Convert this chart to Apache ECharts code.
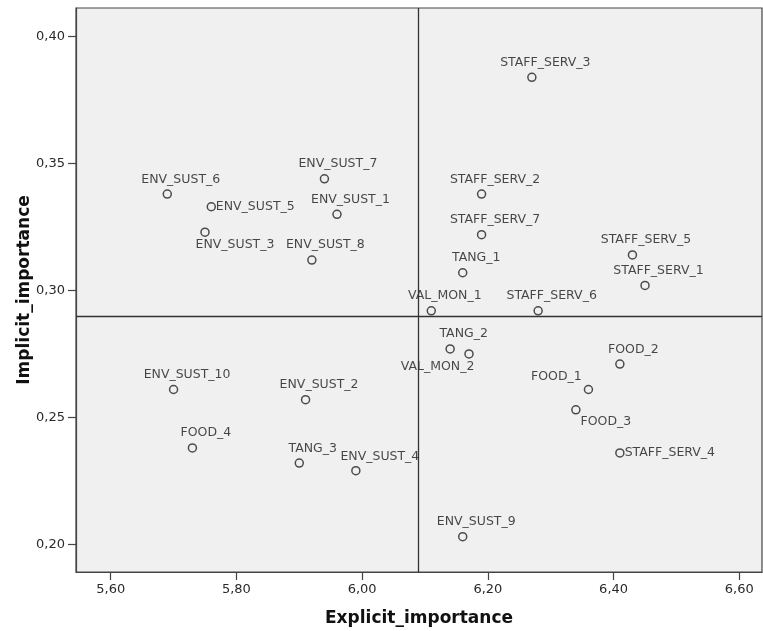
<!DOCTYPE html>
<html>
<head>
<meta charset="utf-8">
<script src="https://cdn.jsdelivr.net/npm/echarts@6/dist/echarts.min.js"></script>
<style>
  html, body { margin: 0; padding: 0; background: #ffffff; }
  #chart { width: 763px; height: 631px; }
</style>
</head>
<body>
<div id="chart"></div>
<script>
// ---- data ----
const names = [
  'ENV_SUST_6', 'ENV_SUST_5', 'ENV_SUST_3', 'ENV_SUST_7', 'ENV_SUST_1', 'ENV_SUST_8',
  'VAL_MON_1', 'STAFF_SERV_3', 'STAFF_SERV_2', 'STAFF_SERV_7', 'TANG_1', 'STAFF_SERV_5',
  'STAFF_SERV_1', 'STAFF_SERV_6', 'TANG_2', 'VAL_MON_2', 'FOOD_2', 'FOOD_1', 'FOOD_3',
  'STAFF_SERV_4', 'ENV_SUST_9', 'ENV_SUST_10', 'ENV_SUST_2', 'FOOD_4', 'TANG_3', 'ENV_SUST_4'
];
const explicitImportance = [
  5.690, 5.760, 5.750, 5.940, 5.960, 5.920,
  6.110, 6.270, 6.190, 6.190, 6.160, 6.430,
  6.450, 6.280, 6.140, 6.170, 6.410, 6.360, 6.340,
  6.410, 6.160, 5.700, 5.910, 5.730, 5.900, 5.990
];
const implicitImportance = [
  0.338, 0.333, 0.323, 0.344, 0.330, 0.312,
  0.292, 0.384, 0.338, 0.322, 0.307, 0.314,
  0.302, 0.292, 0.277, 0.275, 0.271, 0.261, 0.253,
  0.236, 0.203, 0.261, 0.257, 0.238, 0.232, 0.229
];
const xTicks = [5.6, 5.8, 6.0, 6.2, 6.4, 6.6];
const yTicks = [0.20, 0.25, 0.30, 0.35, 0.40];
const xRefLine = 6.089;   // mean of explicit importance
const yRefLine = 0.2892;  // mean of implicit importance

// ---- label placement (style config) ----
const defaultOffset = [13.5, -14.8];
const labelOffsets = {
  'ENV_SUST_3': [30, 13],
  'ENV_SUST_5': [44, 0],
  'VAL_MON_2': [-31.5, 13],
  'FOOD_1': [-32, -12.6],
  'FOOD_3': [30, 12.4],
  'STAFF_SERV_4': [50, 0],
  'ENV_SUST_4': [24, -14]
};

const points = names.map((n, i) => ({
  name: n,
  value: [explicitImportance[i], implicitImportance[i]],
  label: { offset: labelOffsets[n] || defaultOffset }
}));

const fmt = v => v.toFixed(2).replace('.', ',');

const chart = echarts.init(document.getElementById('chart'), null, { renderer: 'canvas' });
chart.setOption({
  animation: false,
  backgroundColor: '#ffffff',
  grid: {
    left: 76, right: 1, top: 8, bottom: 59,
    outerBoundsMode: 'none',
    containLabel: false,
    show: true,
    backgroundColor: '#f0f0f0',
    borderColor: '#444',
    borderWidth: 1.2
  },
  xAxis: {
    type: 'value',
    min: 5.5448, max: 6.6361,
    name: 'Explicit_importance',
    nameLocation: 'middle',
    nameMoveOverlap: false,
    nameGap: 38,
    nameTextStyle: { fontFamily: 'DejaVu Sans', fontWeight: 'bold', fontSize: 17, color: '#111' },
    axisLine: { show: true, onZero: false, lineStyle: { color: '#444', width: 1.2 } },
    axisTick: { show: true, length: 8, customValues: xTicks, lineStyle: { color: '#444', width: 1.2 } },
    axisLabel: { customValues: xTicks, formatter: fmt, margin: 11, fontFamily: 'DejaVu Sans', fontSize: 13, color: '#2a2a2a' },
    splitLine: { show: false }
  },
  yAxis: {
    type: 'value',
    min: 0.1891, max: 0.4113,
    name: 'Implicit_importance',
    nameLocation: 'middle',
    nameMoveOverlap: false,
    nameGap: 43,
    nameTextStyle: { fontFamily: 'DejaVu Sans', fontWeight: 'bold', fontSize: 17, color: '#111' },
    axisLine: { show: true, onZero: false, lineStyle: { color: '#444', width: 1.2 } },
    axisTick: { show: true, length: 8, customValues: yTicks, lineStyle: { color: '#444', width: 1.2 } },
    axisLabel: { customValues: yTicks, formatter: fmt, margin: 11, fontFamily: 'DejaVu Sans', fontSize: 13, color: '#2a2a2a' },
    splitLine: { show: false }
  },
  series: [{
    type: 'scatter',
    data: points,
    symbol: 'circle',
    symbolSize: 8,
    itemStyle: { color: 'rgba(0,0,0,0)', borderColor: '#222', borderWidth: 1.5 },
    label: {
      show: true,
      position: 'inside',
      formatter: p => p.name,
      fontFamily: 'DejaVu Sans',
      fontSize: 12.5,
      color: '#1a1a1a',
      align: 'center',
      verticalAlign: 'middle'
    },
    emphasis: { disabled: true },
    markLine: {
      silent: true,
      symbol: ['none', 'none'],
      label: { show: false },
      lineStyle: { color: '#333', width: 1.3, type: 'solid' },
      data: [{ xAxis: xRefLine }, { yAxis: yRefLine }]
    }
  }]
});
</script>
</body>
</html>
